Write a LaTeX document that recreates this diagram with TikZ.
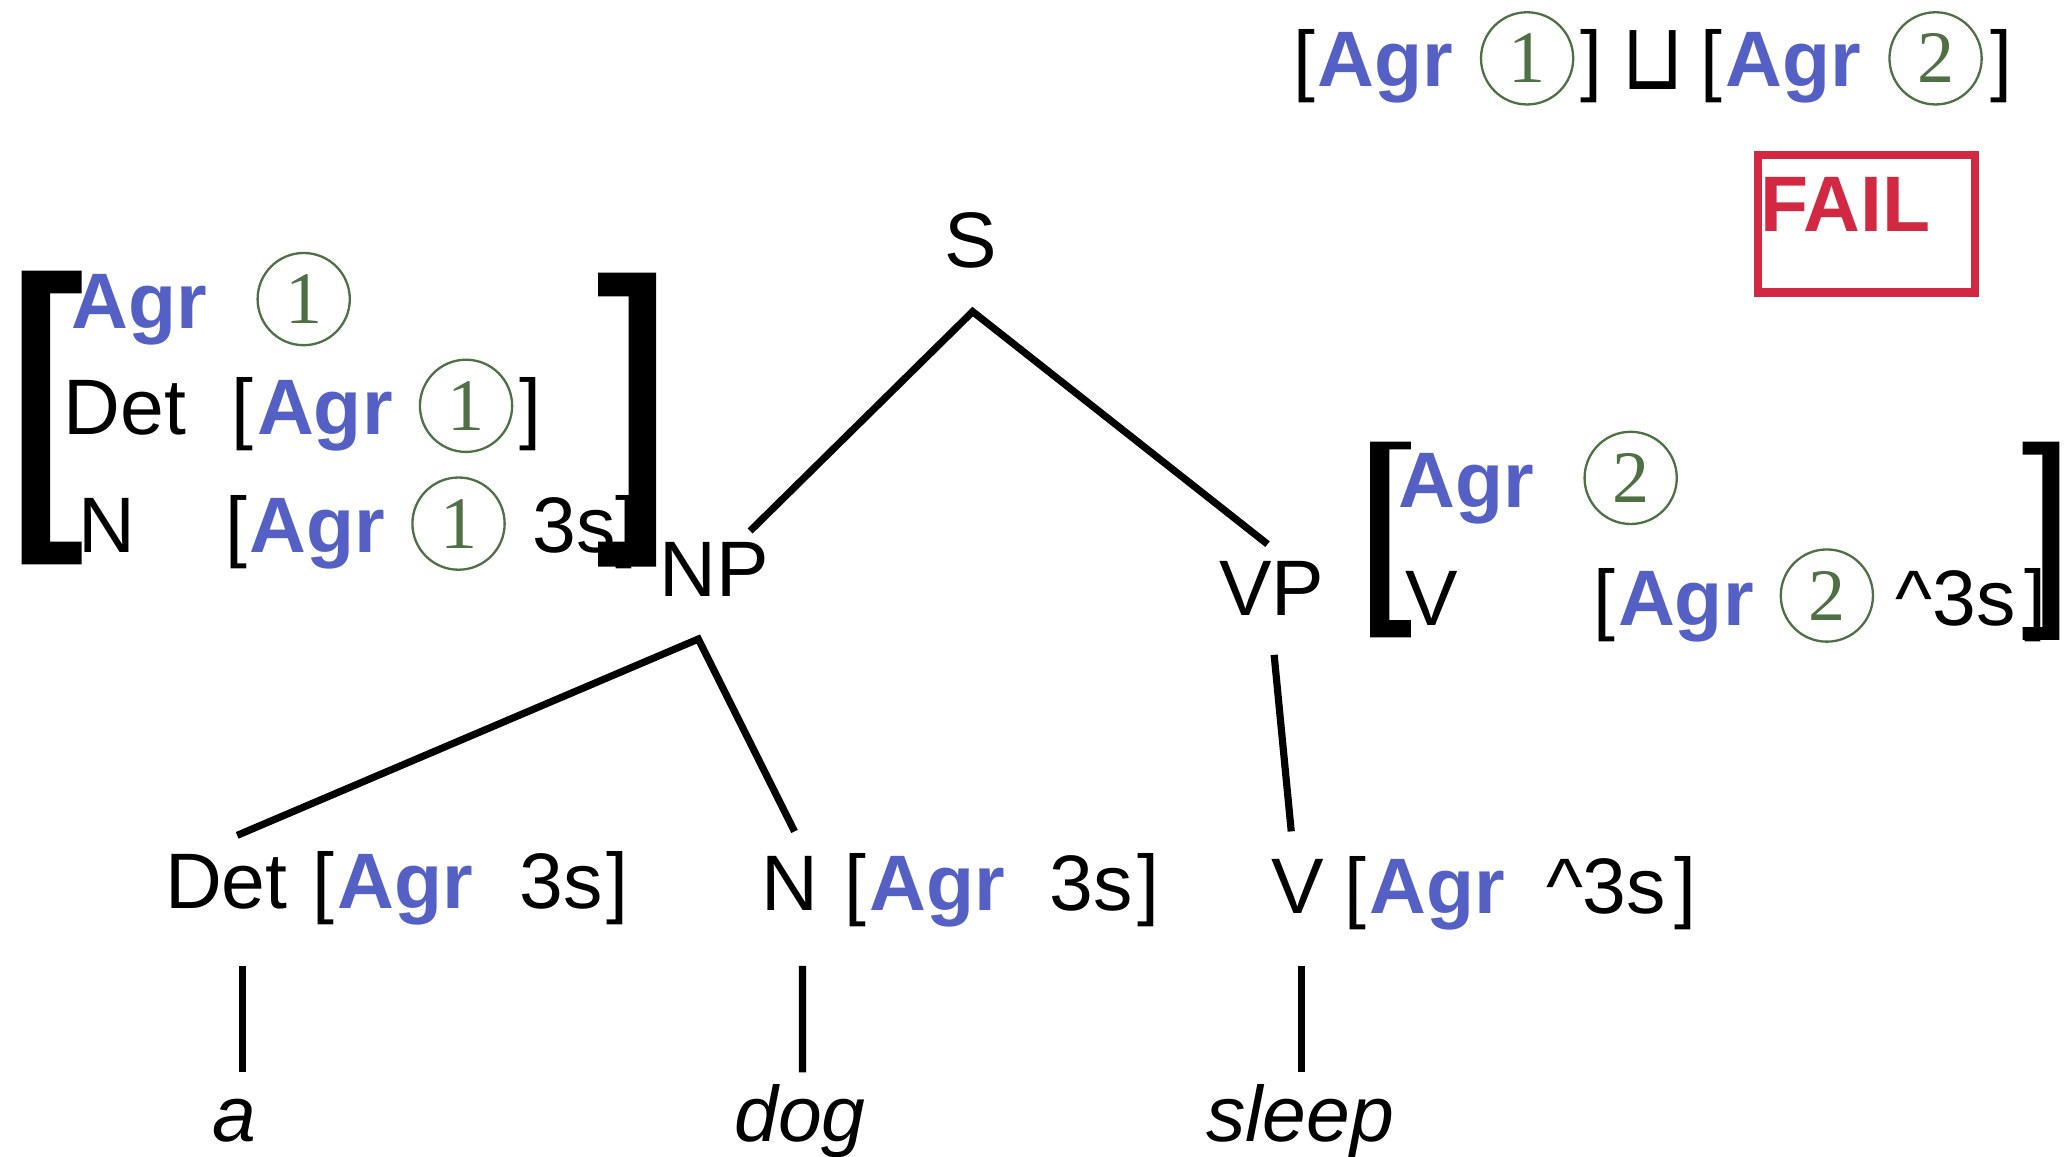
\documentclass[tikz,border=0pt]{standalone}
\usepackage{fontspec}
\setmainfont{Liberation Sans}
\newfontfamily\numfont{Liberation Serif}
\newfontfamily\symfont{DejaVu Sans}
\usetikzlibrary{calc}
\definecolor{agrblue}{HTML}{5560C4}
\definecolor{numgreen}{HTML}{4E7044}
\definecolor{failred}{HTML}{D22841}
\newcommand{\bigfs}{\fontsize{34}{40}\selectfont}
\begin{document}
\begin{tikzpicture}[x=0.02cm,y=-0.02cm,
 txt/.style={inner sep=0pt, anchor=base west, font=\bigfs},
 agr/.style={txt, text=agrblue, font=\bigfs\bfseries},
 word/.style={txt, font=\bigfs\itshape},
 circnum/.style={circle, draw=numgreen, line width=1pt, minimum size=1.4cm, inner sep=0pt, text=numgreen, font=\numfont\fontsize{32}{36}\selectfont},
 branch/.style={line width=3.1pt, line join=miter},
 bigbracket/.style={fill=black},
]
\useasboundingbox (0,0) rectangle (1568,878);

% top right: unification
\node[txt] (tlb1) at (981,66) {[};
\node[agr] (tagr1) at (999.5,66) {Agr};
\node[circnum] (tc1) at (1159,44.3) {1};
\node[txt] (trb1) at (1199.5,66) {]};
\node[inner sep=0pt, anchor=center] (join) at (1254.5,45.5) {\scalebox{0.92}[1.07]{\symfont\fontsize{38}{42}\selectfont ⊔}};
\node[txt] (tlb2) at (1290,66) {[};
\node[agr] (tagr2) at (1309,66) {Agr};
\node[circnum] (tc2) at (1469,44.3) {2};
\node[txt] (trb2) at (1510,66) {]};

% FAIL
\node[txt, text=failred, font=\bigfs\bfseries] (fail) at (1335.5,175.8) {FAIL};
\node[draw=failred, line width=3.7pt, minimum width=3.29cm, minimum height=2.09cm, inner sep=0pt, outer sep=0pt, anchor=north west] (failbox) at (1334.3,117.7) {};

% S
\node[txt, anchor=base] (S) at (737,203) {S};

% left AVM
\node[agr] (lagr0) at (54,249.2) {Agr};
\node[circnum] (lc0) at (230.5,227) {1};
\node[txt] (ldet) at (47.8,329.6) {Det};
\node[txt] (llb1) at (175.5,329.6) {[};
\node[agr] (lagr1) at (194.8,329.6) {Agr};
\node[circnum] (lc1) at (353.7,308) {1};
\node[txt] (lrb1) at (394,329.6) {]};
\node[txt] (ln) at (59,419.2) {N};
\node[txt] (llb2) at (170.5,419.2) {[};
\node[agr] (lagr2) at (189,419.2) {Agr};
\node[circnum] (lc2) at (348,397.4) {1};
\node[txt] (l3s) at (404,419.2) {3s};
\node[txt] (lrb2) at (467,419.2) {]};
\fill[bigbracket] (16.5,205.4) -- (62,205.4) -- (62,222.6) -- (38,222.6) -- (38,411) -- (62,411) -- (62,428.3) -- (16.5,428.3) -- cycle;
\fill[bigbracket] (498,207) -- (454,207) -- (454,225) -- (477,225) -- (477,411) -- (454,411) -- (454,430) -- (498,430) -- cycle;

% NP, VP
\node[txt] (NP) at (500.3,453) {NP};
\node[txt] (VP) at (925,467) {VP};

% right AVM
\node[agr] (ragr0) at (1061,385) {Agr};
\node[circnum] (rc0) at (1237.6,362.7) {2};
\node[txt] (rv) at (1066.5,474.4) {V};
\node[txt] (rlb) at (1209,474.4) {[};
\node[agr] (ragr1) at (1227.7,474.4) {Agr};
\node[circnum] (rc1) at (1386.5,452) {2};
\node[txt] (r3s) at (1438.5,474.4) {\textasciicircum 3s};
\node[txt] (rrb) at (1536,474.4) {]};
\fill[bigbracket] (1039.8,335.2) -- (1070.7,335.2) -- (1070.7,341) -- (1054.4,341) -- (1054.4,470.6) -- (1070.7,470.6) -- (1070.7,483.7) -- (1039.8,483.7) -- cycle;
\fill[bigbracket] (1563,335.2) -- (1535,335.2) -- (1535,345) -- (1550,345) -- (1550,476) -- (1535,476) -- (1535,485.7) -- (1563,485.7) -- cycle;

% bottom row
\node[txt] (det) at (125,689.5) {Det};
\node[txt] (dlb) at (237,689.5) {[};
\node[agr] (dagr) at (256,689.5) {Agr};
\node[txt] (d3s) at (394,689.5) {3s};
\node[txt] (drb) at (460,689.5) {]};
\node[txt] (n) at (577.4,691) {N};
\node[txt] (nlb) at (640.7,691) {[};
\node[agr] (nagr) at (659.6,691) {Agr};
\node[txt] (n3s) at (796.4,691) {3s};
\node[txt] (nrb) at (863,691) {]};
\node[txt] (v) at (964.6,693) {V};
\node[txt] (vlb) at (1020,693) {[};
\node[agr] (vagr) at (1039,693) {Agr};
\node[txt] (v3s) at (1173,693) {\textasciicircum 3s};
\node[txt] (vrb) at (1270.6,693) {]};

% words
\node[word] (wa) at (161,866) {a};
\node[word] (wdog) at (557,866) {dog};
\node[word] (wsleep) at (915,866) {sleep};

% branches
\draw[branch] ($(NP.base west)+(69,-50)$) -- ($(S.base)+(1.2,33.5)$) -- ($(VP.base west)+(37,-54)$);
\draw[branch] ($(det.base west)+(55,-55.5)$) -- ($(NP.base west)+(29.7,32)$) -- ($(n.base west)+(25.6,-60)$);
\draw[branch] ($(VP.base west)+(42,30)$) -- ($(v.base west)+(15.4,-62)$);
\draw[branch] ($(det.base west)+(59.3,43.5)$) -- ($(wa.base west)+(23.3,-52.2)$);
\draw[branch] ($(n.base west)+(31.6,42)$) -- ($(wdog.base west)+(52,-52.2)$);
\draw[branch] ($(v.base west)+(23.2,40)$) -- ($(wsleep.base west)+(72.8,-52.2)$);
\end{tikzpicture}
\end{document}
